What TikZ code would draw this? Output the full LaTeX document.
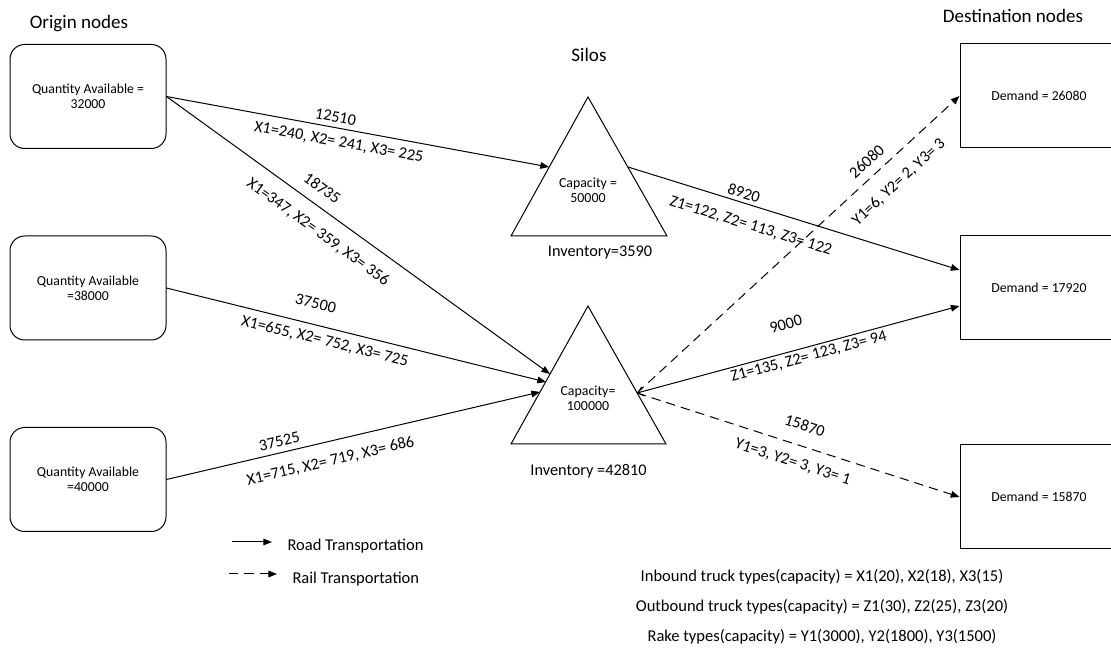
\documentclass[tikz,border=0pt]{standalone}
\usepackage{fontspec}
\setmainfont{Carlito}
\usetikzlibrary{arrows.meta,calc}
\begin{document}
\begin{tikzpicture}[x=0.75pt,y=-0.75pt,line width=0.75pt,
  obox/.style={draw, rounded corners=11pt, minimum width=117pt, minimum height=78pt, inner sep=0pt, align=center, font=\fontsize{10.3}{11}\selectfont},
  dbox/.style={draw, minimum width=118.5pt, minimum height=78pt, inner sep=0pt, font=\fontsize{10.3}{12}\selectfont},
  ttl/.style={font=\fontsize{14.3}{16}\selectfont, inner sep=0pt, anchor=base},
  inv/.style={font=\fontsize{12.2}{13}\selectfont, inner sep=0pt, anchor=base},
  captxt/.style={align=center, inner sep=0pt, font=\fontsize{10.4}{11.3}\selectfont},
  lab/.style={sloped, inner sep=0pt, font=\fontsize{12.2}{14}\selectfont},
  road/.style={-{Triangle[length=6.5pt,width=5pt]}},
  rail/.style={road, dash pattern=on 7pt off 4.5pt},
  note/.style={font=\fontsize{12.4}{14}\selectfont, inner sep=0pt}
]
\useasboundingbox (0,0) rectangle (1111,648);
\clip (0,0) rectangle (1111,648);

% titles
\node[ttl] (torig) at (79,29) {Origin nodes};
\node[ttl] (tsilo) at (589,62) {Silos};
\node[ttl] (tdest) at (1013,23) {Destination nodes};

% origin boxes
\node[obox] (o1) at (88,96.5) {Quantity Available =\\32000};
\node[obox] (o2) at (88,288) {Quantity Available\\=38000};
\node[obox] (o3) at (88,479.5) {Quantity Available\\=40000};

% destination boxes
\node[dbox] (d1) at (1039,96) {Demand = 26080};
\node[dbox] (d2) at (1039,288) {Demand = 17920};
\node[dbox] (d3) at (1039,497) {Demand = 15870};
\coordinate (d2a) at ([yshift=13.5pt]d2.west);
\coordinate (d2b) at ([yshift=-13.5pt]d2.west);

% silos
\draw (588,97) -- (667,236) -- (511,236) -- cycle;
\draw (588,306) -- (666,444) -- (511,444) -- cycle;
\node[captxt] (s1) at (588,190) {Capacity =\\50000};
\node[captxt] (s2) at (588,398) {Capacity=\\100000};
\node[inv] (inv1) at (600,257) {Inventory=3590};
\node[inv] (inv2) at (588.5,476) {Inventory =42810};
\coordinate (s1L) at (549,167);
\coordinate (s1R) at (628,167);
\coordinate (s2a) at (550,374);
\coordinate (s2b) at (546,382);
\coordinate (s2c) at (540,392);
\coordinate (s2R) at (637,393);

% inbound
\draw[road] (o1.east) -- (s1L)
  node[lab, pos=.437, yshift=8.1pt] {12510}
  node[lab, pos=.457, yshift=-10.65pt] {X1=240, X2= 241, X3= 225};
\draw[road] (o1.east) -- (s2a)
  node[lab, pos=.38, yshift=12.8pt] {18735}
  node[lab, pos=.427, yshift=-15.75pt] {X1=347, X2= 359, X3= 356};
\draw[road] (o2.east) -- (s2b)
  node[lab, pos=.38, yshift=15.7pt] {37500}
  node[lab, pos=.426, yshift=-10.35pt] {X1=655, X2= 752, X3= 725};
\draw[road] (o3.east) -- (s2c)
  node[lab, pos=.309, yshift=8.55pt] {37525}
  node[lab, pos=.427, yshift=-14.8pt] {X1=715, X2= 719, X3= 686};

% outbound
\draw[road] (s1R) -- (d2a)
  node[lab, pos=.341, yshift=7.2pt] {8920}
  node[lab, pos=.388, yshift=-15pt] {Z1=122, Z2= 113, Z3= 122};
\draw[rail] (s2R) -- (d1.west)
  node[lab, pos=.743, yshift=11.2pt] {26080}
  node[lab, pos=.765, yshift=-16.65pt] {Y1=6, Y2= 2, Y3= 3};
\draw[{Straight Barb[length=4pt,width=7pt]}-{Triangle[length=6.5pt,width=5pt]}] (s2R) -- (d2b)
  node[lab, pos=.484, yshift=20.9pt] {9000}
  node[lab, pos=.525, yshift=-7.4pt] {Z1=135, Z2= 123, Z3= 94};
\draw[rail] (s2R) -- (d3.west)
  node[lab, pos=.501, yshift=15.4pt] {15870}
  node[lab, pos=.5, yshift=-13.7pt] {Y1=3, Y2= 3, Y3= 1};

% legend
\coordinate (lr1) at (232,542);
\coordinate (lr2) at (272,542);
\coordinate (ll1) at (229,574);
\coordinate (ll2) at (277,574);
\draw[road] (lr1) -- (lr2);
\draw[rail] (ll1) -- (ll2);
\node[note, anchor=west] (lroad) at (287,546) {Road Transportation};
\node[note, anchor=west] (lrail) at (292,579) {Rail Transportation};

% notes
\node[note] (n1) at (822,577) {Inbound truck types(capacity) = X1(20), X2(18), X3(15)};
\node[note] (n2) at (822,607) {Outbound truck types(capacity) = Z1(30), Z2(25), Z3(20)};
\node[note] (n3) at (822,637) {Rake types(capacity) = Y1(3000), Y2(1800), Y3(1500)};
\end{tikzpicture}
\end{document}
